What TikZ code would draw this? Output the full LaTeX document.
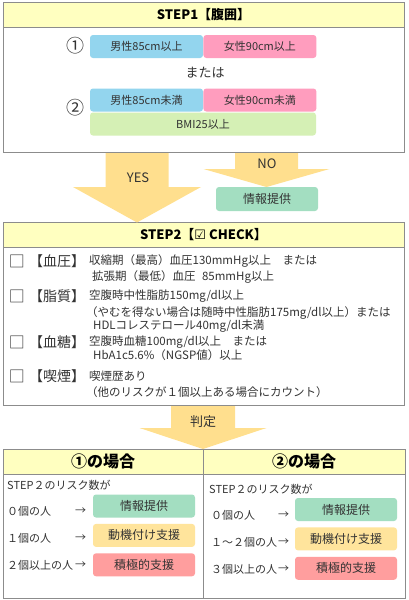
\documentclass[tikz,border=0pt]{standalone}
\usepackage{fontspec}
\setmainfont{Noto Sans CJK JP}
\newfontfamily\checkfont{DejaVu Sans}
\usetikzlibrary{positioning}

\definecolor{headfill}{HTML}{FFFFC0}
\definecolor{framegray}{HTML}{8C8C8C}
\definecolor{arrowfill}{HTML}{FFDF8E}
\definecolor{menblue}{HTML}{93D5EE}
\definecolor{womenpink}{HTML}{FF9DBE}
\definecolor{bmigreen}{HTML}{D5F0B5}
\definecolor{infogreen}{HTML}{A3DEC1}
\definecolor{motivyellow}{HTML}{FFE49C}
\definecolor{activered}{HTML}{FF9E9E}
\definecolor{inkgray}{HTML}{333333}

% x, top, base, tip, half shaft, half head
\newcommand{\blockarrow}[6]{%
  \fill[arrowfill] (#1-#5,#2) -- (#1+#5,#2) -- (#1+#5,#3) -- (#1+#6,#3)
    -- (#1,#4) -- (#1-#6,#3) -- (#1-#5,#3) -- cycle;}

\begin{document}
\begin{tikzpicture}[x=1pt,y=-1pt,
  panel/.style={draw=framegray,fill=white,line width=0.8pt,inner sep=0pt},
  head box/.style={draw=framegray,fill=headfill,line width=0.8pt,inner sep=0pt,
    minimum height=25pt,font=\fontsize{13}{15}\selectfont\bfseries},
  case head/.style={head box,font=\fontsize{16}{18}\selectfont\bfseries},
  cond box/.style={rounded corners=3pt,inner sep=0pt,minimum width=113pt,
    minimum height=23pt,text=inkgray,font=\fontsize{11}{13}\selectfont},
  result box/.style={rounded corners=3pt,inner sep=0pt,minimum width=102pt,
    minimum height=23pt,text=inkgray,font=\fontsize{12}{14}\selectfont},
  circ num/.style={inner sep=0pt,text=inkgray,font=\fontsize{18}{20}\selectfont},
  arrow label/.style={inner sep=0pt,text=inkgray,font=\fontsize{13}{15}\selectfont},
  box mark/.style={inner sep=0pt,text=inkgray,font=\fontsize{16}{18}\selectfont},
  item label/.style={inner sep=0pt,text=inkgray,font=\fontsize{14}{16}\selectfont},
  line text/.style={anchor=west,inner sep=0pt,text=inkgray,font=\fontsize{11.5}{13}\selectfont},
  row text/.style={anchor=west,inner sep=0pt,text=inkgray,font=\fontsize{11}{13}\selectfont}]

  \useasboundingbox (0,0) rectangle (409,600);

  % STEP1
  \node[panel,minimum width=401pt,minimum height=150pt] (panel1) at (203.5,77) {};
  \node[head box,minimum width=401pt] (step1) at (203.5,14.5) {STEP1【腹囲】};
  \node[circ num] (case1mark) at (75,46) {①};
  \node[cond box,fill=menblue] (men1) at (146.5,46.5) {男性85cm以上};
  \node[cond box,fill=womenpink,right=0pt of men1] (women1) {女性90cm以上};
  \node[inner sep=0pt,text=inkgray,font=\fontsize{13}{15}\selectfont] (or) at (205,73) {または};
  \node[circ num] (case2mark) at (75,108) {②};
  \node[cond box,fill=menblue] (men2) at (146.5,100) {男性85cm未満};
  \node[cond box,fill=womenpink,right=0pt of men2] (women2) {女性90cm未満};
  \node[cond box,fill=bmigreen,minimum width=226pt] (bmi) at (203,124) {BMI25以上};

  % STEP2
  \node[panel,minimum width=401pt,minimum height=182pt] (panel2) at (203.5,314) {};
  \node[head box,minimum width=401pt] (step2) at (203.5,235) {STEP2【{\checkfont ☑} CHECK】};

  \node[box mark] (bpmark) at (17,261) {□};
  \node[item label] (bp) at (57,261) {【血圧】};
  \node[line text] (bp1) at (89,261) {収縮期（最高）血圧130mmHg以上　または};
  \node[line text] (bp2) at (92,277) {拡張期（最低）血圧\hphantom{1}85mmHg以上};

  \node[box mark] (lipmark) at (17,296) {□};
  \node[item label] (lip) at (57,296) {【脂質】};
  \node[line text] (lip1) at (89,296) {空腹時中性脂肪150mg/dl以上};
  \node[line text] (lip2) at (86,313) {（やむを得ない場合は随時中性脂肪175mg/dl以上）または};
  \node[line text] (lip3) at (93,326) {HDLコレステロール40mg/dl未満};

  \node[box mark] (glumark) at (17,342) {□};
  \node[item label] (glu) at (57,342) {【血糖】};
  \node[line text] (glu1) at (89,342) {空腹時血糖100mg/dl以上　または};
  \node[line text] (glu2) at (93,355) {HbA1c5.6\%（NGSP値）以上};

  \node[box mark] (smkmark) at (17,376) {□};
  \node[item label] (smk) at (57,376) {【喫煙】};
  \node[line text] (smk1) at (89,376) {喫煙歴あり};
  \node[line text] (smk2) at (86,392) {（他のリスクが１個以上ある場合にカウント）};

  % judgement
  \node[panel,minimum width=402pt,minimum height=149pt] (panel3) at (204,523.5) {};
  \node[case head,minimum width=200pt] (case1) at (103,461.5) {①の場合};
  \node[case head,minimum width=202pt] (case2) at (304,461.5) {②の場合};
  \draw[framegray,line width=0.8pt] (case1.north east) -- (panel3.south -| case1.east);

  \node[row text] (count1) at (7,485) {STEP２のリスク数が};
  \node[row text] (none1) at (7,511) {０個の人};
  \node[row text] (one1) at (7,538) {１個の人};
  \node[row text] (two1) at (7,565) {２個以上の人};
  \foreach \y in {511,538,565} \node[row text] (to1-\y) at (75,\y) {→};
  \node[result box,fill=infogreen] (info1) at (144,506) {情報提供};
  \node[result box,fill=motivyellow,below=6pt of info1] (motiv1) {動機付け支援};
  \node[result box,fill=activered,below=6pt of motiv1] (active1) {積極的支援};

  \node[row text] (count2) at (209,489) {STEP２のリスク数が};
  \node[row text] (none2) at (211,515) {０個の人};
  \node[row text] (one2) at (211,542) {１～２個の人};
  \node[row text] (three2) at (211,569) {３個以上の人};
  \foreach \y in {515,542,569} \node[row text] (to2-\y) at (278,\y) {→};
  \node[result box,fill=infogreen] (info2) at (346,509.5) {情報提供};
  \node[result box,fill=motivyellow,below=6pt of info2] (motiv2) {動機付け支援};
  \node[result box,fill=activered,below=6pt of motiv2] (active2) {積極的支援};

  % arrows
  \blockarrow{137}{153}{187}{222.5}{31.5}{64}
  \blockarrow{266.5}{153}{169}{187}{31.5}{63}
  \blockarrow{203}{406}{428}{449}{32}{63.5}
  \node[arrow label] (yes) at (138,178) {YES};
  \node[arrow label] (no) at (267,164) {NO};
  \node[arrow label] (judge) at (203,422) {判定};
  \node[result box,fill=infogreen,minimum height=24pt] (noinfo) at (267,199) {情報提供};
\end{tikzpicture}
\end{document}
